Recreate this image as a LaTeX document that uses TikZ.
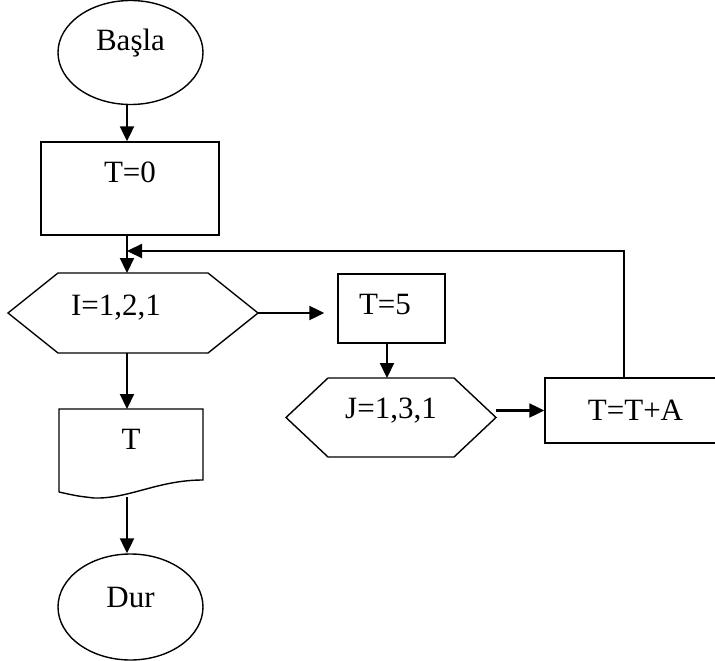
\documentclass[tikz,border=0pt]{standalone}
\usepackage{fontspec}
\setmainfont{Liberation Serif}
\usetikzlibrary{arrows.meta,calc,shapes.geometric}
\begin{document}
\begin{tikzpicture}[x=1pt,y=-1pt,
  every node/.style={font=\fontsize{31pt}{31pt}\selectfont},
  shp/.style={line width=1.4pt},
  term/.style={ellipse,draw,shp,minimum width=145pt,minimum height=104pt,inner sep=0pt},
  box/.style={rectangle,draw,shp,inner sep=0pt},
  frame/.style={rectangle,inner sep=0pt,outer sep=0pt},
  arr/.style={line width=2.2pt,-{Triangle[length=15pt,width=14pt]}}
]
\useasboundingbox (0,0) rectangle (715,661);
\clip (0,0) rectangle (715,661);

\node[term, label={[yshift=9pt]center:Başla}] (basla) at (130.5,52.5) {};
\node[box, minimum width=178pt, minimum height=93pt, label={[yshift=16pt]center:T=0}] (t0) at (130,188.5) {};

\node[frame, minimum width=250pt, minimum height=80pt, label={[xshift=-17pt,yshift=5.5pt]center:I=1,2,1}] (i) at (133,313) {};
\draw[shp] (i.west) -- ([xshift=50pt]i.north west) -- ([xshift=-50pt]i.north east) -- (i.east) -- ([xshift=-50pt]i.south east) -- ([xshift=50pt]i.south west) -- cycle;

\node[box, minimum width=107pt, minimum height=69pt, label={[xshift=-6.5pt,yshift=4.5pt]center:T=5}] (t5) at (391.5,308.5) {};

\node[frame, minimum width=210pt, minimum height=79pt, label={[yshift=6.5pt]center:J=1,3,1}] (j) at (391,417.5) {};
\draw[shp] (j.west) -- ([xshift=42pt]j.north west) -- ([xshift=-42pt]j.north east) -- (j.east) -- ([xshift=-42pt]j.south east) -- ([xshift=42pt]j.south west) -- cycle;

\node[box, minimum width=181pt, minimum height=65pt, label={center:T=T+A}] (tta) at (635.5,410.5) {};

\node[frame, minimum width=144pt, minimum height=83pt, label={[yshift=11pt]center:T}] (doc) at (131,450.5) {};
\draw[shp] (doc.south west) |- (doc.north east) -- ([yshift=12pt]doc.south east)
  .. controls ([xshift=-45pt,yshift=12pt]doc.south east) and ([xshift=70pt,yshift=-7pt]doc.south west) .. ([xshift=35pt,yshift=-6pt]doc.south west)
  .. controls ([xshift=18pt,yshift=-4pt]doc.south west) .. (doc.south west);

\node[term, minimum height=106pt, label={[yshift=10pt]center:Dur}] (dur) at (130.5,607) {};

\coordinate (c) at (127,0);
\coordinate (c2) at (387,0);
\coordinate (m) at (127,251);
\coordinate (dbot) at (127,497);

\draw[arr] (basla.south -| c) -- (t0.north -| c);
\draw[arr] (t0.south -| c) -- (i.north -| c);
\draw[arr, shorten >=13pt] (i.east) -- (t5.west |- i.east);
\draw[arr] (t5.south -| c2) -- (j.north -| c2);
\draw[arr] (j.east |- tta.west) -- (tta.west);
\draw[arr] ([xshift=80pt]tta.north west) |- (m);
\draw[arr] (i.south -| c) -- (doc.north -| c);
\draw[arr] (dbot) -- (dur.north -| c);
\end{tikzpicture}
\end{document}
